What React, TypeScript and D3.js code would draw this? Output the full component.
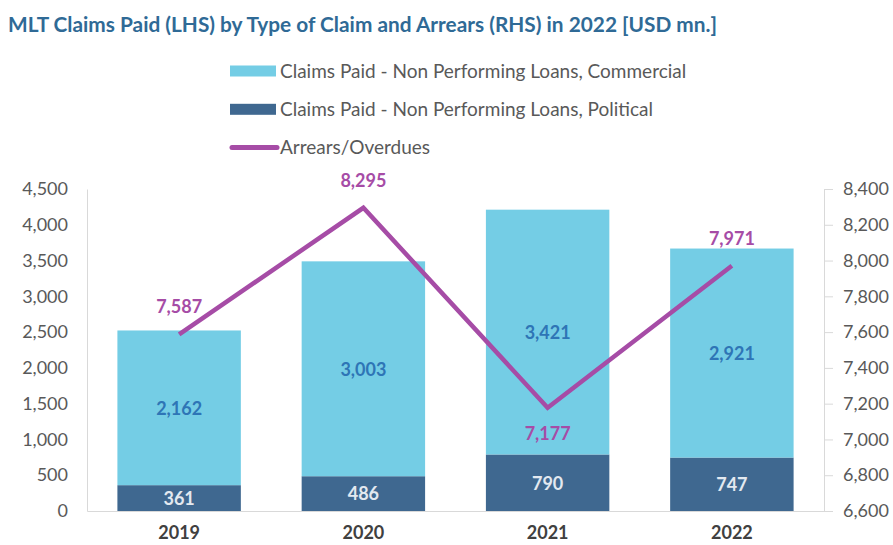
import React, { useEffect, useRef } from 'react';
import * as d3 from 'd3';

const years = ['2019', '2020', '2021', '2022'];
const political = [361, 486, 790, 747];
const commercial = [2162, 3003, 3421, 2921];
const arrears = [7587, 8295, 7177, 7971];
const arrearsLabelPos = ['above', 'above', 'below', 'above'];
const leftTicks = [0, 500, 1000, 1500, 2000, 2500, 3000, 3500, 4000, 4500];
const rightTicks = [6600, 6800, 7000, 7200, 7400, 7600, 7800, 8000, 8200, 8400];

const FONT = 'Lato, "Open Sans", sans-serif';

const App: React.FC = () => {
  const svgRef = useRef<SVGSVGElement>(null);

  useEffect(() => {
    if (!svgRef.current) return;
    const W = 893;
    const H = 545;
    const margin = { top: 189, right: 69, bottom: 34, left: 87 };
    const width = W - margin.left - margin.right;
    const height = H - margin.top - margin.bottom;

    d3.select(svgRef.current).selectAll('*').remove();
    const root = d3.select(svgRef.current).attr('width', W).attr('height', H);
    root.append('rect').attr('width', W).attr('height', H).attr('fill', '#fff');

    // Title
    root
      .append('text')
      .attr('x', 8)
      .attr('y', 32)
      .attr('textLength', 709)
      .attr('lengthAdjust', 'spacingAndGlyphs')
      .style('font-family', FONT)
      .style('font-size', '20px')
      .style('font-weight', 'bold')
      .style('fill', '#2f6a96')
      .text('MLT Claims Paid (LHS) by Type of Claim and Arrears (RHS) in 2022 [USD mn.]');

    // Legend
    const legendItems = [
      { label: 'Claims Paid - Non Performing Loans, Commercial', type: 'rect', color: '#74cde5' },
      { label: 'Claims Paid - Non Performing Loans, Political', type: 'rect', color: '#3f6890' },
      { label: 'Arrears/Overdues', type: 'line', color: '#a64ca6' },
    ];
    const legend = root
      .selectAll('.legend')
      .data(legendItems)
      .enter()
      .append('g')
      .attr('transform', (d, i) => `translate(230,${71 + i * 38.3})`);
    legend
      .filter(d => d.type === 'rect')
      .append('rect')
      .attr('x', 0)
      .attr('y', -5.5)
      .attr('width', 46)
      .attr('height', 11)
      .attr('fill', d => d.color);
    legend
      .filter(d => d.type === 'line')
      .append('line')
      .attr('x1', 2)
      .attr('x2', 47)
      .attr('stroke', d => d.color)
      .attr('stroke-width', 5)
      .attr('stroke-linecap', 'round');
    legend
      .append('text')
      .attr('x', 50)
      .attr('dy', '0.35em')
      .style('font-family', FONT)
      .style('font-size', '19px')
      .style('fill', '#595959')
      .text(d => d.label);

    const svg = root.append('g').attr('transform', `translate(${margin.left},${margin.top})`);

    const x = d3.scaleBand().domain(years).range([0, width]).paddingInner(0.33).paddingOuter(0.165);
    const yL = d3.scaleLinear().domain([0, 4500]).range([height, 0]);
    const yR = d3.scaleLinear().domain([6600, 8400]).range([height, 0]);

    // Axes
    const left = svg.append('g').call(d3.axisLeft(yL).tickValues(leftTicks).tickSize(0).tickPadding(19).tickFormat(d3.format(',')));
    left.select('.domain').attr('stroke', '#d9d9d9');
    left.selectAll('text').style('font-family', FONT).style('font-size', '18px').style('fill', '#595959');

    const right = svg
      .append('g')
      .attr('transform', `translate(${width},0)`)
      .call(d3.axisRight(yR).tickValues(rightTicks).tickSize(9).tickPadding(10).tickFormat(d3.format(',')));
    right.select('.domain').attr('stroke', '#d9d9d9');
    right.selectAll('line').attr('stroke', '#d9d9d9');
    right.selectAll('text').style('font-family', FONT).style('font-size', '18px').style('fill', '#595959');

    const bottom = svg
      .append('g')
      .attr('transform', `translate(0,${height})`)
      .call(d3.axisBottom(x).tickSize(0).tickPadding(15));
    bottom.select('.domain').attr('stroke', '#d9d9d9');
    bottom
      .selectAll('text')
      .style('font-family', FONT)
      .style('font-size', '18px')
      .style('font-weight', 'bold')
      .style('fill', '#404040');

    const rows = years.map((yr, i) => ({ yr, pol: political[i], com: commercial[i], arr: arrears[i], pos: arrearsLabelPos[i] }));

    // Bars
    svg
      .selectAll('.bar-pol')
      .data(rows)
      .enter()
      .append('rect')
      .attr('x', d => x(d.yr)!)
      .attr('width', x.bandwidth())
      .attr('y', d => yL(d.pol))
      .attr('height', d => yL(0) - yL(d.pol))
      .attr('fill', '#3f6890');
    svg
      .selectAll('.bar-com')
      .data(rows)
      .enter()
      .append('rect')
      .attr('x', d => x(d.yr)!)
      .attr('width', x.bandwidth())
      .attr('y', d => yL(d.pol + d.com))
      .attr('height', d => yL(d.pol) - yL(d.pol + d.com))
      .attr('fill', '#74cde5');

    const lbl = (sel: any, color: string) =>
      sel.style('font-family', FONT).style('font-size', '18px').style('font-weight', 'bold').style('fill', color).attr('text-anchor', 'middle');

    svg
      .selectAll('.lbl-pol')
      .data(rows)
      .enter()
      .append('text')
      .attr('x', d => x(d.yr)! + x.bandwidth() / 2)
      .attr('y', d => (yL(0) + yL(d.pol)) / 2)
      .attr('dy', '0.38em')
      .text(d => d3.format(',')(d.pol))
      .call(lbl, '#e3e9f0');
    svg
      .selectAll('.lbl-com')
      .data(rows)
      .enter()
      .append('text')
      .attr('x', d => x(d.yr)! + x.bandwidth() / 2)
      .attr('y', d => (yL(d.pol) + yL(d.pol + d.com)) / 2)
      .attr('dy', '0.38em')
      .text(d => d3.format(',')(d.com))
      .call(lbl, '#2e75b6');

    // Arrears line
    const line = d3
      .line<any>()
      .x(d => x(d.yr)! + x.bandwidth() / 2)
      .y(d => yR(d.arr));
    svg
      .append('path')
      .datum(rows)
      .attr('d', line)
      .attr('fill', 'none')
      .attr('stroke', '#a64ca6')
      .attr('stroke-width', 4.5)
      .attr('stroke-linejoin', 'miter');

    svg
      .selectAll('.lbl-arr')
      .data(rows)
      .enter()
      .append('text')
      .attr('x', d => x(d.yr)! + x.bandwidth() / 2)
      .attr('y', d => yR(d.arr) + (d.pos === 'above' ? -28 : 25))
      .attr('dy', '0.38em')
      .text(d => d3.format(',')(d.arr))
      .call(lbl, '#a64ca6');
  }, []);

  return <svg ref={svgRef} style={{ display: 'block', position: 'absolute', left: 0, top: 0 }} />;
};

export default App;
